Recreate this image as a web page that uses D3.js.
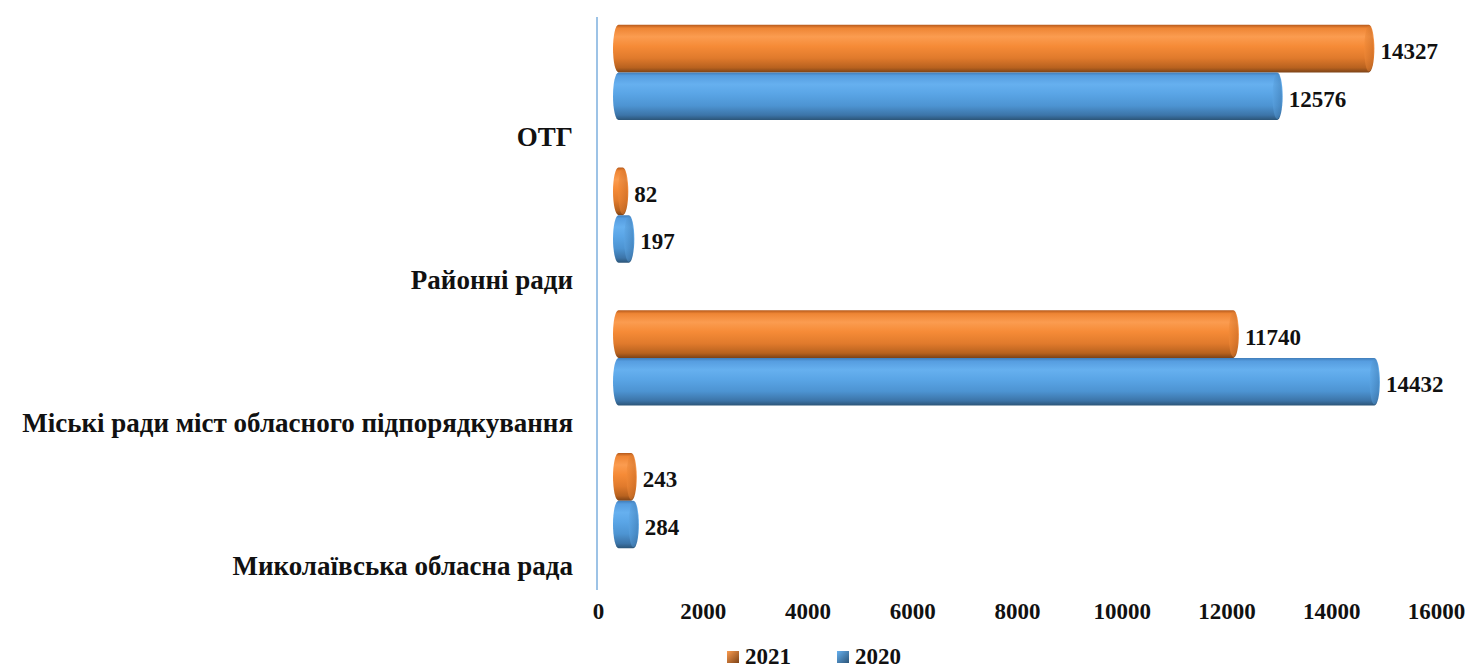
<!DOCTYPE html>
<html><head><meta charset="utf-8">
<script src="https://cdn.jsdelivr.net/npm/d3@7"></script>
<style>html,body{margin:0;padding:0;background:#fff;}svg{display:block;}</style>
</head><body>
<svg id="chart" width="1477" height="670"></svg>
<script>
const categories = ["ОТГ", "Районні ради", "Міські ради міст обласного підпорядкування", "Миколаївська обласна рада"];
const seriesNames = ["2021", "2020"];
const values2021 = [14327, 82, 11740, 243];
const values2020 = [12576, 197, 14432, 284];
const tickValues = [0, 2000, 4000, 6000, 8000, 10000, 12000, 14000, 16000];

const seriesValues = {"2021": values2021, "2020": values2020};
const colors = {
  "2021": {stops: ["#b65a1c", "#ee8534", "#fb9c50", "#f68b37", "#e07a2c", "#b8621f", "#7e4317"], cap: ["#f08a38", "#c76a25"]},
  "2020": {stops: ["#3f7cb8", "#569de0", "#66b0ef", "#5aa5e6", "#4d94d2", "#3c74a8", "#2c5578"], cap: ["#5ca4e2", "#3f7bb2"]}
};

const svg = d3.select("#chart");
const font = "'Liberation Serif', 'Times New Roman', serif";

const x = d3.scaleLinear().domain([0, 16000]).range([598, 1436]);
const y = d3.scaleBand().domain(categories).range([1, 572]).paddingInner(0).paddingOuter(0);
const yInner = d3.scaleBand().domain(seriesNames).range([0, y.bandwidth()]).paddingInner(0).paddingOuter(0.5);

const depth = 20.5, rx = 5.5;

const defs = svg.append("defs");
seriesNames.forEach(s => {
  const g = defs.append("linearGradient").attr("id", "grad" + s).attr("x1", 0).attr("y1", 0).attr("x2", 0).attr("y2", 1);
  const offs = [0, 0.07, 0.25, 0.45, 0.7, 0.9, 1];
  colors[s].stops.forEach((c, i) => g.append("stop").attr("offset", offs[i]).attr("stop-color", c));
  const gc = defs.append("linearGradient").attr("id", "cap" + s).attr("x1", 0).attr("y1", 0).attr("x2", 1).attr("y2", 0);
  gc.append("stop").attr("offset", 0).attr("stop-color", colors[s].cap[0]);
  gc.append("stop").attr("offset", 1).attr("stop-color", colors[s].cap[1]);
  const gl = defs.append("linearGradient").attr("id", "leg" + s).attr("x1", 0).attr("y1", 0).attr("x2", 1).attr("y2", 1);
  gl.append("stop").attr("offset", 0).attr("stop-color", colors[s].stops[2]);
  gl.append("stop").attr("offset", 1).attr("stop-color", colors[s].stops[6]);
});

// vertical axis line
svg.append("line").attr("x1", 597).attr("x2", 597).attr("y1", 17).attr("y2", 590)
  .attr("stroke", "#9dc3e6").attr("stroke-width", 2);

// bars
const data = [];
categories.forEach((c, i) => seriesNames.forEach(s => data.push({cat: c, s: s, v: seriesValues[s][i]})));

const gBars = svg.append("g");
data.forEach(d => {
  const top = y(d.cat) + yInner(d.s);
  const h = yInner.bandwidth();
  const bot = top + h;
  const x0 = x(0) + depth, x1 = x(d.v) + depth;
  const ry = h / 2;
  const p = `M${x0},${top} L${x1},${top} A${rx},${ry} 0 0 1 ${x1},${bot} L${x0},${bot} A${rx},${ry} 0 0 1 ${x0},${top} Z`;
  gBars.append("path").attr("d", p).attr("fill", `url(#grad${d.s})`);
  gBars.append("ellipse").attr("cx", x1).attr("cy", top + ry).attr("rx", rx * 0.85).attr("ry", ry * 0.96)
    .attr("fill", `url(#cap${d.s})`).attr("opacity", 0.55);
  gBars.append("text").attr("x", x1 + rx + 6).attr("y", top + ry + 3)
    .attr("dominant-baseline", "central")
    .attr("font-family", font).attr("font-weight", "bold").attr("font-size", 23).attr("fill", "#111")
    .text(d.v);
});

// category labels
svg.append("g").selectAll("text").data(categories).join("text")
  .attr("x", 573).attr("y", d => y(d) + y.bandwidth() / 2 + 65)
  .attr("text-anchor", "end").attr("dominant-baseline", "central")
  .attr("font-family", font).attr("font-weight", "bold").attr("font-size", 27).attr("fill", "#111")
  .text(d => d);

// x axis tick labels
const xAxis = d3.axisBottom(x).tickValues(tickValues).tickSize(0).tickPadding(0).tickFormat(d3.format("d"));
const gx = svg.append("g").attr("transform", "translate(0,603)").call(xAxis);
gx.select(".domain").remove();
gx.selectAll("text").attr("font-family", font).attr("font-weight", "bold").attr("font-size", 23).attr("fill", "#111");

// legend
const legX = {"2021": 727, "2020": 837};
const leg = svg.append("g").selectAll("g").data(seriesNames).join("g")
  .attr("transform", d => `translate(${legX[d]},651)`);
leg.append("rect").attr("width", 12).attr("height", 12).attr("fill", d => `url(#leg${d})`);
leg.append("text").attr("x", 18).attr("y", 13).attr("font-family", font).attr("font-weight", "bold")
  .attr("font-size", 23).attr("fill", "#111").text(d => d);
</script>
</body></html>
